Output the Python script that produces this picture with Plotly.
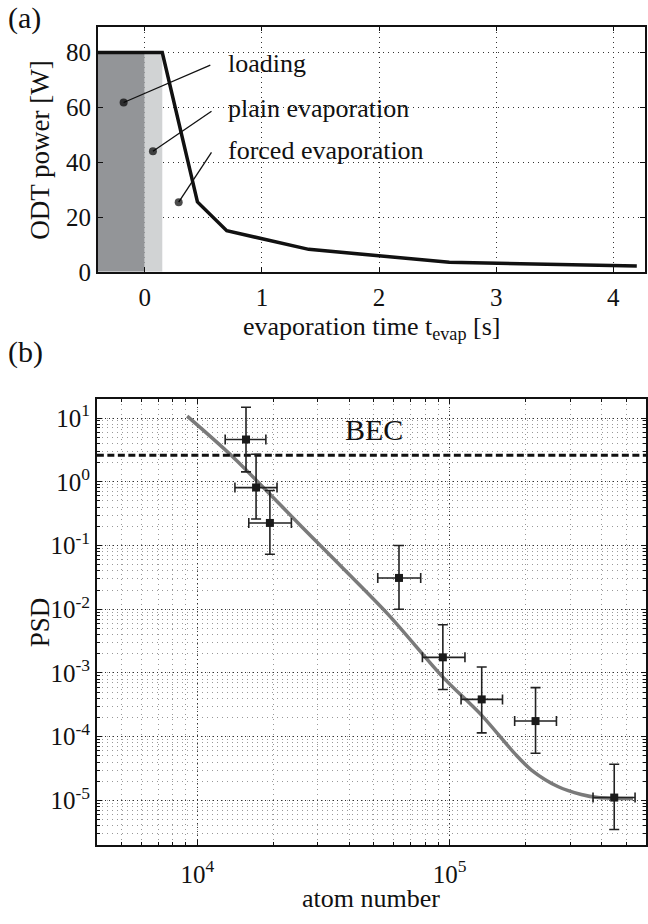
import math
import plotly.graph_objects as go

# ---------------- panel (a) data ----------------
t_evap = [-0.4, 0.15, 0.45, 0.7, 1.4, 2.6, 4.2]
odt_power = [80, 80, 25.5, 15, 8.2, 3.5, 2.1]
phase_edges = [-0.4, 0.0, 0.15]          # loading | plain evaporation
phase_level = 80
label_texts = ["loading", "plain evaporation", "forced evaporation"]
label_dot_x = [-0.18, 0.07, 0.29]
label_dot_y = [61.8, 44.0, 25.4]
label_end_x = [0.56, 0.57, 0.57]
label_end_y = [75.4, 58.6, 43.6]
label_text_x = [0.69, 0.69, 0.69]
label_text_y = [76.0, 59.5, 44.2]

# ---------------- panel (b) data ----------------
atom_n = [1.56e4, 1.71e4, 1.94e4, 6.3e4, 9.4e4, 1.34e5, 2.19e5, 4.49e5]
atom_n_lo = [1.29e4, 1.41e4, 1.6e4, 5.19e4, 7.8e4, 1.11e5, 1.81e5, 3.7e5]
atom_n_hi = [1.87e4, 2.07e4, 2.36e4, 7.68e4, 1.15e5, 1.62e5, 2.65e5, 5.43e5]
psd = [4.6, 0.81, 0.226, 0.031, 1.76e-3, 3.85e-4, 1.76e-4, 1.11e-5]
psd_lo = [1.43, 0.26, 0.073, 0.01, 5.5e-4, 1.15e-4, 5.5e-5, 3.5e-6]
psd_hi = [14.8, 2.7, 0.73, 0.1, 5.7e-3, 1.24e-3, 5.9e-4, 3.7e-5]
curve_n = [9120, 13750, 25300, 33300, 57400, 93800, 133700, 182400, 211000,
           269600, 332500, 388000, 533000]
curve_psd = [10.7, 2.51, 0.218, 0.0727, 8.1e-3, 8.7e-4, 2.18e-4, 5.28e-5,
             3.0e-5, 1.64e-5, 1.24e-5, 1.11e-5, 1.07e-5]
bec_psd = 2.612
x_range_b = [4e3, 6e5]
y_range_b = [2e-6, 20]
y_tick_exp = [-5, -4, -3, -2, -1, 0, 1]
x_tick_exp = [4, 5]

FONT = "Liberation Serif, 'Times New Roman', Times, serif"
W, H = 648, 924
INK = "#111111"

fig = go.Figure()

# shaded phases
fig.add_trace(go.Scatter(
    x=[phase_edges[0], phase_edges[0], phase_edges[1], phase_edges[1]],
    y=[0, phase_level, phase_level, 0], fill="toself", mode="none",
    fillcolor="#939598", xaxis="x", yaxis="y", showlegend=False))
fig.add_trace(go.Scatter(
    x=[phase_edges[1], phase_edges[1], phase_edges[2], phase_edges[2]],
    y=[0, phase_level, phase_level, 0], fill="toself", mode="none",
    fillcolor="#d1d3d4", xaxis="x", yaxis="y", showlegend=False))

# ODT power ramp
fig.add_trace(go.Scatter(x=t_evap, y=odt_power, mode="lines",
                         line=dict(color=INK, width=3.5),
                         xaxis="x", yaxis="y", showlegend=False))

# label pointers
for i in range(len(label_texts)):
    fig.add_trace(go.Scatter(
        x=[label_dot_x[i], label_end_x[i]], y=[label_dot_y[i], label_end_y[i]],
        mode="lines+markers", line=dict(color=INK, width=1.3),
        marker=dict(size=[8, 0], color="#000", line=dict(width=0)),
        xaxis="x", yaxis="y", showlegend=False))
    fig.add_annotation(x=label_text_x[i], y=label_text_y[i], xref="x", yref="y",
                       text=label_texts[i], showarrow=False, xanchor="left",
                       yanchor="middle", font=dict(family=FONT, size=26, color=INK))

# panel (b): fit curve
fig.add_trace(go.Scatter(x=curve_n, y=curve_psd, mode="lines",
                         line=dict(color="#7a7a7a", width=3.5, shape="spline", smoothing=0.8),
                         xaxis="x2", yaxis="y2", showlegend=False))

# BEC threshold
fig.add_trace(go.Scatter(x=x_range_b, y=[bec_psd, bec_psd], mode="lines",
                         line=dict(color=INK, width=3, dash="7px,3.5px"),
                         xaxis="x2", yaxis="y2", showlegend=False))

# data points
fig.add_trace(go.Scatter(
    x=atom_n, y=psd, mode="markers",
    marker=dict(symbol="square", size=8, color="#1a1a1a"),
    error_y=dict(type="data", symmetric=False,
                 array=[h - v for h, v in zip(psd_hi, psd)],
                 arrayminus=[v - l for l, v in zip(psd_lo, psd)],
                 color="#222222", thickness=1.6, width=5),
    error_x=dict(type="data", symmetric=False,
                 array=[h - v for h, v in zip(atom_n_hi, atom_n)],
                 arrayminus=[v - l for l, v in zip(atom_n_lo, atom_n)],
                 color="#222222", thickness=1.6, width=5),
    xaxis="x2", yaxis="y2", showlegend=False))


def axis_common():
    return dict(showline=True, linecolor=INK, linewidth=1.5, mirror="allticks",
                ticks="inside", ticklen=5, tickcolor=INK, zeroline=False,
                tickfont=dict(family=FONT, size=25, color=INK))


fig.update_layout(
    width=W, height=H, margin=dict(l=0, r=0, t=0, b=0),
    paper_bgcolor="white", plot_bgcolor="white",
    font=dict(family=FONT, color=INK),
    xaxis=dict(domain=[98 / W, 646 / W], anchor="y", range=[-0.4, 4.27],
               tickvals=[0, 1, 2, 3, 4], showgrid=True, gridcolor="#333",
               griddash="1px,4px", gridwidth=1, ticklabelstandoff=2, **axis_common()),
    yaxis=dict(domain=[1 - 276 / H, 1 - 27 / H], anchor="x", range=[0, 89.5],
               tickvals=[0, 20, 40, 60, 80], showgrid=True, gridcolor="#333",
               griddash="1px,4px", gridwidth=1, **axis_common()),
    xaxis2=dict(domain=[97 / W, 647 / W], anchor="y2", type="log",
                range=[math.log10(x_range_b[0]), math.log10(x_range_b[1])],
                tickvals=[10 ** e for e in x_tick_exp],
                ticktext=["10<sup>%d</sup>" % e for e in x_tick_exp],
                showgrid=True, gridcolor="#333", griddash="1px,3px", gridwidth=1,
                ticklabelstandoff=6,
                minor=dict(dtick="D1", showgrid=True, gridcolor="#999",
                           griddash="1px,4px", ticks="inside", ticklen=3, tickcolor=INK),
                **axis_common()),
    yaxis2=dict(domain=[1 - 858 / H, 1 - 405 / H], anchor="x2", type="log",
                range=[math.log10(y_range_b[0]), math.log10(y_range_b[1])],
                tickvals=[10 ** e for e in y_tick_exp],
                ticktext=["10<sup>%d</sup>" % e for e in y_tick_exp],
                showgrid=True, gridcolor="#333", griddash="1px,3px", gridwidth=1,
                minor=dict(dtick="D1", showgrid=True, gridcolor="#999",
                           griddash="1px,4px", ticks="inside", ticklen=3, tickcolor=INK),
                **axis_common()),
)

fig.add_annotation(x=6 / W, y=1 - 18 / H, xref="paper", yref="paper", text="(a)",
                   showarrow=False, xanchor="left", yanchor="middle",
                   font=dict(family=FONT, size=30, color=INK))
fig.add_annotation(x=6 / W, y=1 - 357 / H, xref="paper", yref="paper", text="(b)",
                   showarrow=False, xanchor="left", yanchor="middle",
                   font=dict(family=FONT, size=30, color=INK))
fig.add_annotation(x=40 / W, y=1 - 152 / H, xref="paper", yref="paper",
                   text="ODT power [W]", textangle=-90, showarrow=False,
                   xanchor="center", yanchor="middle",
                   font=dict(family=FONT, size=27, color=INK))
fig.add_annotation(x=372 / W, y=1 - 333 / H, xref="paper", yref="paper",
                   text="evaporation time t<sub>evap</sub> [s]", showarrow=False,
                   xanchor="center", yanchor="middle",
                   font=dict(family=FONT, size=26, color=INK))
fig.add_annotation(x=40 / W, y=1 - 632 / H, xref="paper", yref="paper",
                   text="PSD", textangle=-90, showarrow=False,
                   xanchor="center", yanchor="middle",
                   font=dict(family=FONT, size=27, color=INK))
fig.add_annotation(x=372 / W, y=1 - 912 / H, xref="paper", yref="paper",
                   text="atom number", showarrow=False,
                   xanchor="center", yanchor="middle",
                   font=dict(family=FONT, size=26, color=INK))
fig.add_annotation(x=375 / W, y=1 - 436 / H, xref="paper", yref="paper",
                   text="BEC", showarrow=False, xanchor="center", yanchor="middle",
                   font=dict(family=FONT, size=30, color=INK))

fig.write_html("out.html")
